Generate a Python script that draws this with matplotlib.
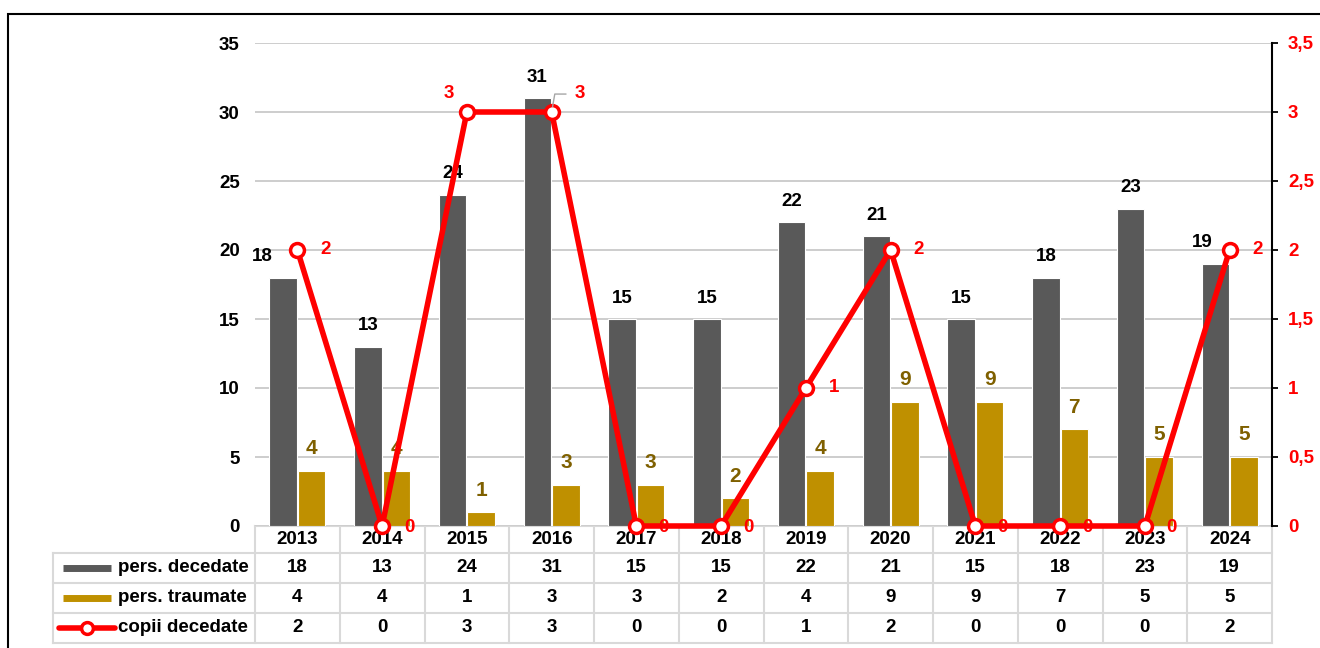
import matplotlib
matplotlib.use('Agg')
import numpy as np
import matplotlib.pyplot as plt
from matplotlib import transforms
from matplotlib.patches import Rectangle
from matplotlib.lines import Line2D
from matplotlib.ticker import FuncFormatter, MultipleLocator

# ---------------- data ----------------
years = ['2013', '2014', '2015', '2016', '2017', '2018', '2019', '2020',
         '2021', '2022', '2023', '2024']
decedate = [18, 13, 24, 31, 15, 15, 22, 21, 15, 18, 23, 19]
traumate = [4, 4, 1, 3, 3, 2, 4, 9, 9, 7, 5, 5]
copii = [2, 0, 3, 3, 0, 0, 1, 2, 0, 0, 0, 2]
series_names = ['pers. decedate', 'pers. traumate', 'copii decedate']

# ---------------- style ----------------
C_DARK = '#595959'
C_GOLD = '#BF9000'
C_GOLD_TXT = '#7F6000'
C_RED = '#FF0000'
C_GRID = '#C0C0C0'
C_TAB = '#D9D9D9'
FS = 13.5

plt.rcParams['font.family'] = ['Liberation Sans', 'DejaVu Sans']
plt.rcParams['font.weight'] = 'bold'

W, H = 1320, 648
fig = plt.figure(figsize=(W / 100, H / 100), dpi=100)
fig.patch.set_facecolor('white')


def fx(px):
    return px / W


def fy(py):
    return 1 - py / H


# overlay axes in pixel coordinates for table / legend
tab = fig.add_axes([0, 0, 1, 1], zorder=-1)
tab.set_xlim(0, W)
tab.set_ylim(H, 0)
tab.axis('off')

ax = fig.add_axes([fx(255), fy(526), fx(1272) - fx(255), fy(43) - fy(526)])
x = np.arange(len(years))
bw = 0.325
off = 0.168
ax.bar(x - off, decedate, bw, color=C_DARK, edgecolor='white', linewidth=0.8, zorder=2)
ax.bar(x + off, traumate, bw, color=C_GOLD, edgecolor='white', linewidth=0.8, zorder=2)
ax.set_xlim(-0.5, len(years) - 0.5)
ax.set_ylim(0, 35)
ax.yaxis.set_major_locator(MultipleLocator(5))
ax.grid(axis='y', color=C_GRID, linewidth=1.1, zorder=0)
ax.set_axisbelow(True)
ax.set_xticks([])
ax.tick_params(axis='y', length=0, pad=11, labelsize=FS, labelcolor='black')
for s in ax.spines.values():
    s.set_visible(False)

# value labels for bars
dark_dx = {0: -21, 11: -13}
for i, v in enumerate(decedate):
    ax.annotate(str(v), (x[i] - off, v), xytext=(dark_dx.get(i, 0), 21),
                textcoords='offset pixels', ha='center', va='center',
                fontsize=FS, fontweight='bold', color='black', zorder=5)
for i, v in enumerate(traumate):
    ax.annotate(str(v), (x[i] + off, v), xytext=(0, 22),
                textcoords='offset pixels', ha='center', va='center',
                fontsize=FS + 1.5, fontweight='bold', color=C_GOLD_TXT, zorder=5)

# secondary axis + line
ax2 = ax.twinx()
ax2.set_ylim(0, 3.5)
ax2.yaxis.set_major_locator(MultipleLocator(0.5))
ax2.yaxis.set_major_formatter(FuncFormatter(lambda v, p: ('%g' % v).replace('.', ',')))
for k, s in ax2.spines.items():
    s.set_visible(k == 'right')
ax2.spines['right'].set_color('black')
ax2.spines['right'].set_linewidth(1.5)
ax2.tick_params(axis='y', direction='out', length=4.5, width=1.3, color='black',
                labelcolor=C_RED, labelsize=FS, pad=7)
ax2.plot(x, copii, color=C_RED, lw=4, marker='o', ms=10, mfc='white', mec=C_RED,
         mew=2.5, zorder=3, clip_on=False)

for i, v in enumerate(copii):
    if i == 2:
        dx, dy = -18, 18
    elif i == 3:
        dx, dy = 28, 18
        ax2.annotate('', xy=(x[i], v), xytext=(x[i] + 0.17, v + 0.13),
                     arrowprops=dict(arrowstyle='-', color='#A6A6A6', lw=1,
                                     connectionstyle='angle,angleA=0,angleB=80,rad=0',
                                     shrinkA=0, shrinkB=4))
    elif v == 0:
        dx, dy = 27, -2
    else:
        dx, dy = 28, 0
    ax2.annotate(str(v), (x[i], v), xytext=(dx, dy), textcoords='offset pixels',
                 ha='center', va='center', fontsize=FS, fontweight='bold',
                 color=C_RED, zorder=6, annotation_clip=False)

# ---------------- data table ----------------
bt = transforms.blended_transform_factory(ax.transData, tab.transData)
row_lines = [526, 553, 583, 613, 643]
left_px = 53
lw_t = 1.5
tab.add_line(Line2D([-0.5, len(years) - 0.5], [526, 526], transform=bt, color=C_TAB, lw=lw_t))
for yy in row_lines[1:]:
    tab.plot([left_px, 1272], [yy, yy], color=C_TAB, lw=lw_t)
tab.plot([left_px, left_px], [553, 643], color=C_TAB, lw=lw_t)
for b in np.arange(len(years) + 1) - 0.5:
    tab.add_line(Line2D([b, b], [526, 643], transform=bt, color=C_TAB, lw=lw_t))

rows = [decedate, traumate, copii]
row_centers = [568, 598, 628]
for i, yr in enumerate(years):
    tab.text(x[i], 540, yr, transform=bt, ha='center', va='center', fontsize=FS,
             fontweight='bold', color='black')
    for r, vals in enumerate(rows):
        tab.text(x[i], row_centers[r], str(vals[i]), transform=bt, ha='center',
                 va='center', fontsize=FS, fontweight='bold', color='black')

# legend keys inside table
tab.plot([63, 111], [row_centers[0], row_centers[0]], color=C_DARK, lw=5, solid_capstyle='butt')
tab.plot([63, 111], [row_centers[1], row_centers[1]], color=C_GOLD, lw=5, solid_capstyle='butt')
tab.plot([59, 115], [row_centers[2], row_centers[2]], color=C_RED, lw=4, solid_capstyle='round')
tab.plot([87], [row_centers[2]], marker='o', ms=8.5, mfc='white', mec=C_RED, mew=2.5)
for r, name in enumerate(series_names):
    tab.text(118, row_centers[r], name, ha='left', va='center', fontsize=FS,
             fontweight='bold', color='black')

# outer frame
fig.add_artist(Rectangle((fx(8), -0.1), 2, fy(14) + 0.1, transform=fig.transFigure,
                         fill=False, ec='black', lw=1.5))

fig.savefig('out.png', dpi=100)
